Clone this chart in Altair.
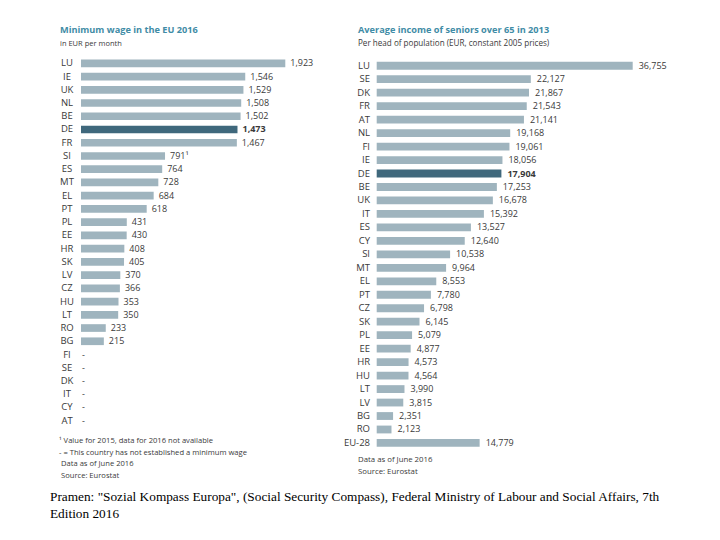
import altair as alt
import pandas as pd

# ---------------- data ----------------
left_countries = ["LU", "IE", "UK", "NL", "BE", "DE", "FR", "SI", "ES", "MT", "EL", "PT",
                  "PL", "EE", "HR", "SK", "LV", "CZ", "HU", "LT", "RO", "BG",
                  "FI", "SE", "DK", "IT", "CY", "AT"]
left_values = [1923, 1546, 1529, 1508, 1502, 1473, 1467, 791, 764, 728, 684, 618,
               431, 430, 408, 405, 370, 366, 353, 350, 233, 215,
               None, None, None, None, None, None]

right_countries = ["LU", "SE", "DK", "FR", "AT", "NL", "FI", "IE", "DE", "BE", "UK", "IT",
                   "ES", "CY", "SI", "MT", "EL", "PT", "CZ", "SK", "PL", "EE", "HR", "HU",
                   "LT", "LV", "BG", "RO", "EU-28"]
right_values = [36755, 22127, 21867, 21543, 21141, 19168, 19061, 18056, 17904, 17253, 16678, 15392,
                13527, 12640, 10538, 9964, 8553, 7780, 6798, 6145, 5079, 4877, 4573, 4564,
                3990, 3815, 2351, 2123, 14779]

left_title = "Minimum wage in the EU 2016"
left_subtitle = "in EUR per month"
right_title = "Average income of seniors over 65 in 2013"
right_subtitle = "Per head of population (EUR, constant 2005 prices)"
left_notes = ["\u00b9 Value for 2015, data for 2016 not available",
              "- = This country has not established a minimum wage",
              "Data as of June 2016",
              "Source: Eurostat"]
right_notes = ["Data as of June 2016", "Source: Eurostat"]
caption = ['Pramen: "Sozial Kompass Europa", (Social Security Compass), Federal Ministry of Labour and Social Affairs, 7th',
           "Edition 2016"]

# ---------------- styling ----------------
FONT = "Open Sans"
BAR = "#9fb4be"
HL = "#3f687c"
TITLE_C = "#3f8ca6"
TXT = "#3a3a3a"


def fmt(v):
    return "-" if v is None else f"{int(v):,}"


left_labels = [fmt(v) for v in left_values]
left_labels[left_countries.index("SI")] = "791\u00b9"
ldf = pd.DataFrame({"country": left_countries, "value": left_values, "label": left_labels})
ldf["pos"] = ldf["value"].fillna(0)
ldf["has"] = [v is not None for v in left_values]

rdf = pd.DataFrame({"country": right_countries, "value": right_values,
                    "label": [fmt(v) for v in right_values]})
rdf["pos"] = rdf["value"]
rdf["has"] = True


def panel(df, order, xmax, xrange, yrange, lab_x, lab_align, dx):
    xs = alt.Scale(domain=[0, xmax], range=xrange, nice=False, zero=True)
    ys = alt.Scale(domain=order, range=yrange, paddingInner=0.42, paddingOuter=0.21)
    base = alt.Chart(df)
    Y = alt.Y("country:N", sort=order, scale=ys, axis=None)
    bars = base.mark_bar().encode(
        x=alt.X("value:Q", scale=xs, axis=None),
        y=Y,
        color=alt.condition(alt.datum.country == "DE", alt.value(HL), alt.value(BAR)),
    )
    vals = base.transform_filter(
        (alt.datum.country != "DE") & alt.datum.has
    ).mark_text(align="left", baseline="middle", font=FONT, fontSize=9,
                color=TXT, dx=dx).encode(
        x=alt.X("pos:Q", scale=xs, axis=None), y=Y, text="label:N")
    vals_de = base.transform_filter(alt.datum.country == "DE").mark_text(
        align="left", baseline="middle", font=FONT, fontSize=9, fontWeight="bold",
        color=TXT, dx=dx).encode(
        x=alt.X("pos:Q", scale=xs, axis=None), y=Y, text="label:N")
    dashes = base.transform_filter(~alt.datum.has).mark_text(
        align="left", baseline="middle", font=FONT, fontSize=9, color=TXT, dx=1).encode(
        x=alt.X("pos:Q", scale=xs, axis=None), y=Y, text="label:N")
    names = base.mark_text(align=lab_align, baseline="middle", font=FONT, fontSize=9.5,
                           color=TXT).encode(
        x=alt.value(lab_x), y=Y, text="country:N")
    return alt.layer(bars, vals, vals_de, dashes, names)


left = panel(ldf, left_countries, 1923, [73, 277.3], [48.7, 419.3], 59, "center", 5)
right = panel(rdf, right_countries, 36755, [368.7, 624.7], [51.0, 441.7], 362, "right", 6)


def txt(s, x, y, size, color=TXT, weight="normal", font=FONT):
    return alt.Chart(pd.DataFrame({"t": [s]})).mark_text(
        align="left", baseline="middle", font=font, fontSize=size, fontWeight=weight,
        color=color).encode(text="t:N", x=alt.value(x), y=alt.value(y))


texts = [
    txt(left_title, 52, 22, 9.2, TITLE_C, "bold"),
    txt(left_subtitle, 52, 35.5, 7.5),
    txt(right_title, 350, 22, 9.2, TITLE_C, "bold"),
    txt(right_subtitle, 350, 36, 8.1),
]
for i, (s, y) in enumerate(zip(left_notes, [433, 444.5, 456, 467.5])):
    texts.append(txt(s, 51 if i < 2 else 53, y, 7.6))
for s, y in zip(right_notes, [452, 464]):
    texts.append(txt(s, 350, y, 7.8))
for s, y in zip(caption, [489, 506]):
    texts.append(txt(s, 42, y, 13.3, "#000000", "normal", "Liberation Serif"))

chart = alt.layer(left, right, *texts).resolve_scale(
    x="independent", y="independent", color="independent"
).properties(
    width=704, height=524, padding=0,
    autosize=alt.AutoSizeParams(type="none"),
    background="white",
).configure_view(strokeWidth=0)

chart.save("out.html", embed_options={"renderer": "svg", "actions": False})
